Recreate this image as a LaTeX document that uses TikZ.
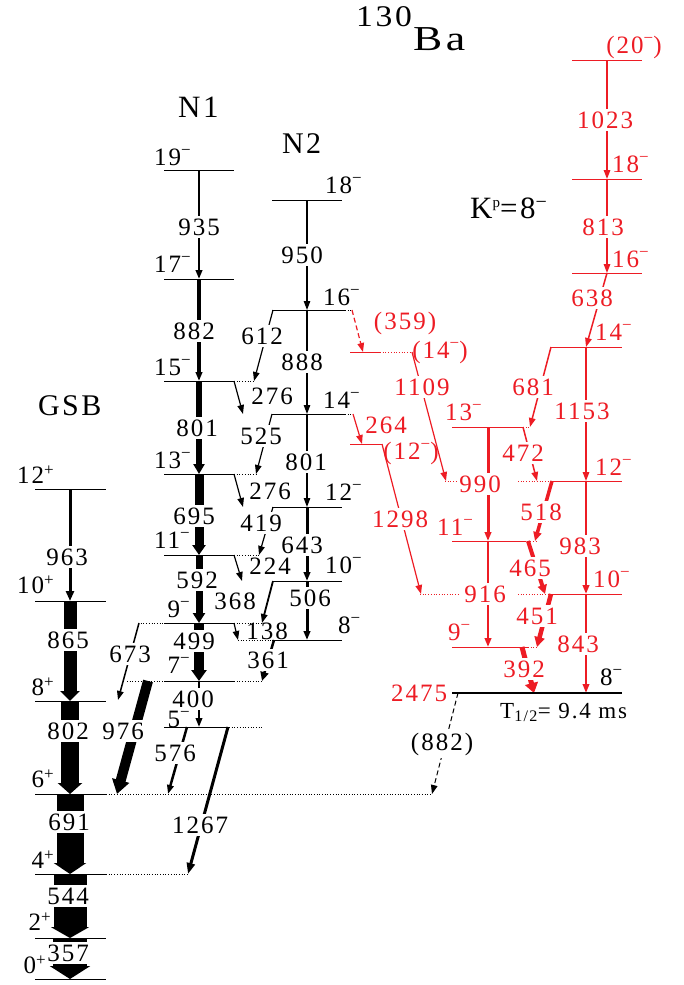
\documentclass[tikz,border=0pt]{standalone}
\usepackage{fontspec}
\usepackage{graphicx}
\setmainfont{Liberation Serif}[LetterSpace=8]
\usetikzlibrary{arrows.meta}
\definecolor{rd}{RGB}{237,28,36}
\newcommand\smn{\raisebox{9.5pt}{\fontsize{17}{18}\selectfont −}}
\newcommand\spl{\raisebox{8pt}{\fontsize{17}{18}\selectfont +}}
\begin{document}
\begin{tikzpicture}[x=1pt,y=-1pt,font=\fontsize{25}{30}\selectfont,
 lv/.style={line width=1pt},
 dl/.style={line width=0.9pt,dash pattern=on 0.9pt off 1.8pt},
 tr/.style={line width=#1,-{Triangle[length=9pt,width=6.5pt]}},
 tr/.default=1.5pt,
 trh/.style n args={3}{line width=#1,-{Triangle[length=#3,width=#2]}},
 fat/.style n args={3}{line width=#1,-{Triangle[length=#3,width=#2]}},
 lab/.style={fill=white,inner xsep=1pt,inner ysep=3pt},
 side/.style={inner sep=0pt},
 sl/.style={inner sep=0pt,anchor=base east},
 sr/.style={inner sep=0pt,anchor=base west},
 rr/.style={color=rd}]
\useasboundingbox (0,0) rectangle (683,985);

% ---------- titles
\node[inner sep=0pt,anchor=base west,font=\fontsize{30}{32}\selectfont] (t130) at (356,27) {\scalebox{1.12}[1]{130}};
\node[inner sep=0pt,anchor=base west,font=\fontsize{35}{38}\selectfont] (tBa) at (413,50) {\scalebox{1.25}[1]{Ba}};
\node[inner sep=0pt,anchor=base west,font=\fontsize{30}{32}\selectfont] (tGSB) at (38,415) {GSB};
\node[inner sep=0pt,anchor=base west,font=\fontsize{31}{33}\selectfont] (tN1) at (178,117) {N1};
\node[inner sep=0pt,anchor=base west,font=\fontsize{30}{32}\selectfont] (tN2) at (282,153) {N2};
\node[inner sep=0pt,anchor=base west,font=\fontsize{31}{33}\selectfont] (tK) at (470,218) {K\raisebox{11pt}{\fontsize{15}{16}\selectfont p}=8\raisebox{10pt}{\fontsize{20}{21}\selectfont −}};

% ---------- GSB levels
\foreach \y in {489,601,701,794,874,938,979} \draw[lv] (35,\y) -- (106,\y);
\draw[dl] (106,794) -- (432,794);
\draw[dl] (106,874) -- (188,874);
% GSB transitions
\draw[trh={3pt}{8pt}{10pt}] (70,489) -- (70,601);
\draw[fat={13pt}{19pt}{10pt}] (70,601) -- (70,701);
\draw[fat={18pt}{24pt}{11pt}] (70,701) -- (70,794);
\draw[fat={27pt}{32pt}{11pt}] (70,794) -- (70,874);
\draw[fat={33pt}{38pt}{11pt}] (70,874) -- (70,938);
\draw[fat={34pt}{40pt}{13pt}] (70,938) -- (70,979);

% ---------- N1 levels
\foreach \y in {170,279,381,474,555,623,681} \draw[lv] (164,\y) -- (234,\y);
\draw[lv] (164,727) -- (229,727);
\draw[dl] (234,381) -- (255,381);
\draw[dl] (234,474) -- (257,474);
\draw[dl] (234,555) -- (260,555);
\draw[dl] (234,623) -- (262,623);
\draw[dl] (138,623) -- (164,623);
\draw[dl] (234,681) -- (262,681);
\draw[dl] (127,681) -- (164,681);
\draw[dl] (229,727) -- (262,727);
% N1 transitions
\draw[tr=2.5pt] (199,170) -- (199,279);
\draw[tr=3.5pt] (199,279) -- (199,381);
\draw[fat={6pt}{11pt}{10pt}] (199,381) -- (199,474);
\draw[fat={9pt}{13pt}{10pt}] (199,474) -- (199,555);
\draw[fat={7pt}{12pt}{10pt}] (199,555) -- (199,623);
\draw[fat={10pt}{15pt}{11pt}] (199,623) -- (199,681);
\draw[tr=2pt] (199,681) -- (199,727);

% ---------- N2 levels
\foreach \y in {200,507,581,640} \draw[lv] (272,\y) -- (342,\y);
\draw[lv] (272,310) -- (345,310); \draw[dl] (345,310) -- (353,310);
\draw[lv] (272,414) -- (345,414); \draw[dl] (345,414) -- (353,414);
\draw[dl] (238,640) -- (274,640);
% N2 transitions
\draw[tr=1.2pt] (307,200) -- (307,310);
\draw[tr=1.2pt] (307,310) -- (307,414);
\draw[tr=1.2pt] (307,414) -- (307,507);
\draw[tr=3pt] (307,507) -- (307,581);
\draw[tr=3pt] (307,581) -- (307,640);

% ---------- interband (black)
\draw[tr=1.2pt] (273,310) -- (254,381);
\draw[tr=1.2pt] (234,381) -- (243,414);
\draw[tr=1.2pt] (272,414) -- (256,474);
\draw[tr=1.2pt] (234,474) -- (243,507);
\draw[tr=1.2pt] (273,507) -- (259,555);
\draw[tr=1.2pt] (234,555) -- (242,581);
\draw[tr=1.8pt] (273,581) -- (262,623);
\draw[tr=1.2pt] (234,623) -- (238,640);
\draw[trh={2.5pt}{8pt}{9pt}] (274,640) -- (262,681);
\draw[tr=1.5pt] (139,623) -- (118,700);
\draw[fat={10pt}{17pt}{14pt}] (148,681) -- (117,794);
\draw[tr=2.5pt] (187,727) -- (168,794);
\draw[trh={3pt}{8pt}{11pt}] (228,727) -- (188,874);
\draw[tr=1pt,dash pattern=on 5pt off 3pt] (458,693) -- (432,794);

% ---------- K band (red) levels
\begin{scope}[rr]
\foreach \y in {60,179,273} \draw[lv] (572,\y) -- (642,\y);
\draw[lv] (551,347) -- (622,347);
\draw[lv] (552,481) -- (622,481);
\draw[lv] (552,594) -- (622,594);
\draw[dl] (518,481) -- (552,481); \draw[dl] (445,481) -- (458,481);
\draw[dl] (518,594) -- (552,594); \draw[dl] (420,594) -- (458,594);
\draw[lv] (452,427) -- (523,427); \draw[dl] (523,427) -- (531,427);
\draw[lv] (452,541) -- (525,541); \draw[dl] (525,541) -- (537,541);
\draw[lv] (452,647) -- (528,647); \draw[dl] (528,647) -- (538,647);
\draw[lv] (350,352) -- (380,352); \draw[dl] (380,352) -- (412,352);
\draw[lv] (350,444) -- (382,444);
% red transitions
\draw[tr=1.5pt] (607,60) -- (607,179);
\draw[tr=1.5pt] (607,179) -- (607,273);
\draw[tr=1.5pt] (607,273) -- (586,347);
\draw[tr=1.5pt] (586,347) -- (586,481);
\draw[tr=2.5pt] (586,481) -- (586,594);
\draw[tr=2pt] (586,594) -- (586,693);
\draw[tr=3pt] (488,427) -- (488,541);
\draw[tr=2.5pt] (488,541) -- (488,647);
\draw[tr=1.5pt] (551,347) -- (530,427);
\draw[tr=1.5pt] (523,427) -- (537,481);
\draw[trh={3.5pt}{8pt}{9pt}] (552,481) -- (535,541);
\draw[trh={4pt}{9pt}{9pt}] (528,541) -- (545,594);
\draw[trh={4.5pt}{10pt}{10pt}] (551,594) -- (537,647);
\draw[trh={5pt}{13pt}{10pt}] (522,647) -- (534,693);
\draw[tr=1.2pt,dash pattern=on 5pt off 3pt] (352,310) -- (363,352);
\draw[tr=1.2pt] (412,352) -- (446,481);
\draw[tr=1.2pt] (353,414) -- (362,444);
\draw[tr=1.2pt] (382,444) -- (421,594);
\end{scope}
\draw[line width=2.5pt] (452,693) -- (622,693);

% ---------- spin labels GSB
\node[sl] (g12) at (54,483) {12\spl};
\node[sl] (g10) at (54,593) {10\spl};
\node[sl] (g8) at (54,695) {8\spl};
\node[sl] (g6) at (54,787) {6\spl};
\node[sl] (g4) at (54,868) {4\spl};
\node[sl] (g2) at (51,930) {2\spl};
\node[sl] (g0) at (46,973) {0\spl};
% N1
\node[sl] (a19) at (191,165) {19\smn};
\node[sl] (a17) at (191,272) {17\smn};
\node[sl] (a15) at (191,375) {15\smn};
\node[sl] (a13) at (191,468) {13\smn};
\node[sl] (a11) at (190,548) {11\smn};
\node[sl] (a9) at (190,617) {9\smn};
\node[sl] (a7) at (190,673) {7\smn};
\node[sl] (a5) at (190,727) {5\smn};
% N2
\node[sr] (b18) at (325,193) {18\smn};
\node[sr] (b16) at (323,305) {16\smn};
\node[sr] (b14) at (323,408) {14\smn};
\node[sr] (b12) at (325,500) {12\smn};
\node[sr] (b10) at (325,573) {10\smn};
\node[sr] (b8) at (338,633) {8\smn};
% red
\begin{scope}[rr]
\node[inner sep=0pt] (k20) at (634,47) {(20\smn)};
\node[sr] (k18) at (612,172) {18\smn};
\node[sr] (k16) at (612,267) {16\smn};
\node[sr] (k14) at (595,340) {14\smn};
\node[sr] (k12) at (595,475) {12\smn};
\node[sr] (k10) at (593,587) {10\smn};
\node[sr] (c13) at (445,420) {13\smn};
\node[sr] (c11) at (437,535) {11\smn};
\node[sr] (c9) at (448,640) {9\smn};
\node[inner sep=0pt] (d14) at (440,352) {(14\smn)};
\node[inner sep=0pt] (d12) at (411,453) {(12\smn)};
\node[inner sep=0pt] (e2475) at (419,693) {2475};
\end{scope}
\node[sr] (k8) at (600,685) {8\smn};
\node[sr,font=\fontsize{23}{26}\selectfont] (thalf) at (500,718) {T\textsubscript{1/2}= 9.4 ms};

% ---------- transition labels (black)
\node[lab] (l963) at (67,557) {963};
\node[lab] (l865) at (68,640) {865};
\node[lab] (l802) at (68,731) {802};
\node[lab] (l691) at (69,822) {691};
\node[lab] (l544) at (68,896) {544};
\node[lab] (l357) at (68,953) {357};
\node[lab] (l935) at (199,227) {935};
\node[lab] (l882) at (194,331) {882};
\node[lab] (l801a) at (197,428) {801};
\node[lab] (l695) at (194,516) {695};
\node[lab] (l592) at (197,580) {592};
\node[lab] (l499) at (194,641) {499};
\node[lab] (l400) at (193,699) {400};
\node[lab] (l950) at (302,255) {950};
\node[lab] (l888) at (302,362) {888};
\node[lab] (l801b) at (306,462) {801};
\node[lab] (l643) at (302,545) {643};
\node[lab] (l506) at (310,598) {506};
\node[lab] (l612) at (262,336) {612};
\node[side] (l276a) at (272,396) {276};
\node[lab] (l525) at (261,436) {525};
\node[side] (l276b) at (270,491) {276};
\node[lab] (l419) at (261,523) {419};
\node[side] (l224) at (270,566) {224};
\node[side] (l368) at (235,601) {368};
\node[side] (l138) at (267,631) {138};
\node[lab] (l361) at (268,660) {361};
\node[lab] (l673) at (130,654) {673};
\node[lab] (l976) at (123,731) {976};
\node[lab] (l576) at (175,753) {576};
\node[lab] (l1267) at (200,825) {1267};
\node[lab] (l882b) at (442,744) {(882)};
% red labels
\begin{scope}[rr]
\node[lab] (l1023) at (605,120) {1023};
\node[lab] (l813) at (603,227) {813};
\node[lab] (l638) at (592,298) {638};
\node[lab] (l1153) at (582,411) {1153};
\node[lab] (l983) at (580,546) {983};
\node[lab] (l843) at (578,644) {843};
\node[lab] (l990) at (480,484) {990};
\node[lab] (l916) at (485,594) {916};
\node[lab] (l681) at (533,387) {681};
\node[lab] (l472) at (523,453) {472};
\node[lab] (l518) at (541,512) {518};
\node[lab] (l465) at (530,568) {465};
\node[lab] (l451) at (537,616) {451};
\node[lab] (l392) at (524,669) {392};
\node[side] (l359) at (405,323) {(359)};
\node[lab] (l1109) at (422,387) {1109};
\node[side] (l264) at (386,425) {264};
\node[lab] (l1298) at (400,519) {1298};
\end{scope}
\end{tikzpicture}
\end{document}
